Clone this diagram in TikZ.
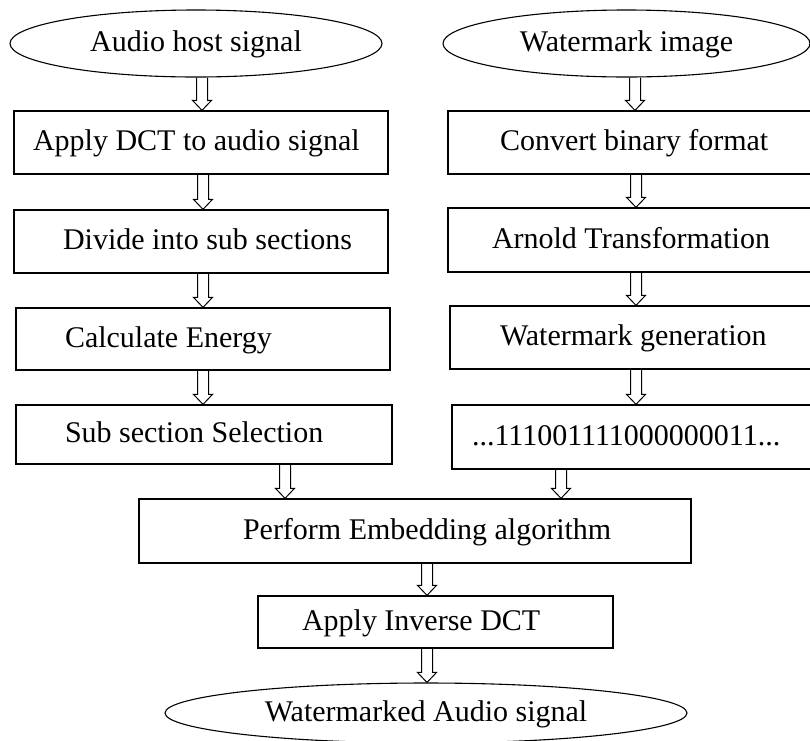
\documentclass[tikz,border=0pt]{standalone}
\usepackage{fontspec}
\setmainfont{Liberation Serif}
\usetikzlibrary{shapes.geometric,calc}
\tikzset{
  txt/.style={text height=20pt, text depth=4pt, font=\fontsize{30pt}{36pt}\selectfont},
  box/.style={txt, draw, line width=1.3pt, rectangle, inner xsep=0pt, inner ysep=0pt},
  oval/.style={txt, draw, line width=1.1pt, ellipse, inner sep=0pt},
  barrow/.style={draw, line width=1pt, line join=miter}
}
% hollow block arrow at horizontal position #1 (px) from node anchor #2 down to node anchor #3
\newcommand\myblockarrow[3]{\draw[barrow] let \p1=(#2), \p2=(#3) in
  (#1pt-5.5pt,\y1) -- (#1pt-5.5pt,\y2+10pt) -- (#1pt-9.5pt,\y2+10pt) -- (#1pt,\y2)
  -- (#1pt+9.5pt,\y2+10pt) -- (#1pt+5.5pt,\y2+10pt) -- (#1pt+5.5pt,\y1);}
\begin{document}
\begin{tikzpicture}[x=1pt,y=-1pt]
\path[use as bounding box, clip] (0,0) rectangle (810,740);
% left column
\node[oval, minimum width=372pt, minimum height=67pt] (e1) at (196,43.5) {Audio host signal\hspace{22pt}};
\node[box, minimum height=63pt] (L1) at (201,142.5) {\makebox[374pt][l]{\hspace{19pt}Apply DCT to audio signal}};
\node[box, minimum height=63pt] (L2) at (201,241.5) {\makebox[374pt][l]{\hspace{49pt}Divide into sub sections}};
\node[box, minimum height=62pt] (L3) at (203,339) {\makebox[374pt][l]{\hspace{49pt}Calculate Energy}};
\node[box, minimum height=59pt] (L4) at (204,434.5) {\makebox[376pt][l]{\hspace{49pt}Sub section Selection}};
% right column (boxes run past the right edge of the picture)
\node[oval, minimum width=367pt, minimum height=67pt] (e2) at (626.5,43.5) {Watermark image\hspace{12pt}};
\node[box, minimum height=63pt] (R1) at (636.5,142.5) {\makebox[377pt][l]{\hspace{52pt}Convert binary format}};
\node[box, minimum height=64pt] (R2) at (636.5,240) {\makebox[377pt][l]{\hspace{44pt}Arnold Transformation}};
\node[box, minimum height=63pt] (R3) at (637.5,337.5) {\makebox[375pt][l]{\hspace{50pt}Watermark generation}};
\node[box, minimum height=64pt] (R4) at (638.5,437) {\makebox[373pt][l]{\hspace{20pt}...111001111000000011...}};
% bottom
\node[box, minimum height=64pt] (P) at (415,531) {\makebox[552pt][l]{\hspace{104pt}Perform Embedding algorithm}};
\node[box, minimum height=52pt] (I) at (435.5,622) {\makebox[355pt][l]{\hspace{44pt}Apply Inverse DCT}};
\node[oval, minimum width=522pt, minimum height=60pt] (e3) at (426,713) {Watermarked Audio signal\hspace{13pt}};
% arrows
\myblockarrow{202}{e1.south}{L1.north}
\myblockarrow{203}{L1.south}{L2.north}
\myblockarrow{203}{L2.south}{L3.north}
\myblockarrow{203}{L3.south}{L4.north}
\myblockarrow{635}{e2.south}{R1.north}
\myblockarrow{636}{R1.south}{R2.north}
\myblockarrow{636}{R2.south}{R3.north}
\myblockarrow{636}{R3.south}{R4.north}
\myblockarrow{285}{L4.south}{P.north}
\myblockarrow{561}{R4.south}{P.north}
\myblockarrow{427}{P.south}{I.north}
\myblockarrow{427}{I.south}{e3.north}
\end{tikzpicture}
\end{document}
